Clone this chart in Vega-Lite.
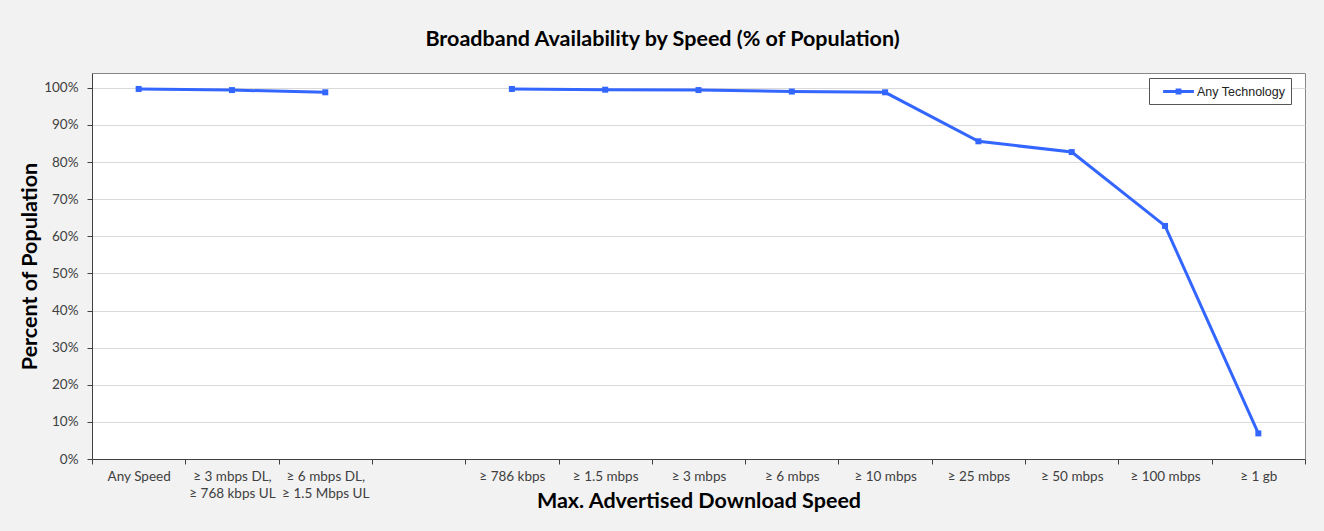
{
  "$schema": "https://vega.github.io/schema/vega-lite/v6.json",
  "width": 1213,
  "height": 386,
  "autosize": {"type": "none"},
  "padding": {"left": 92, "top": 73, "right": 19, "bottom": 72},
  "background": "#f2f2f2",
  "title": {
    "text": "Broadband Availability by Speed (% of Population)",
    "font": "Lato",
    "fontSize": 21.5,
    "fontWeight": "bold",
    "color": "#000000",
    "anchor": "middle",
    "dx": -36,
    "offset": 23
  },
  "data": {
    "values": [
      {"speed": "Any Speed", "pct": 0.997, "seg": "a", "tech": "Any Technology"},
      {"speed": "≥ 3 mbps DL,|≥ 768 kbps UL", "pct": 0.994, "seg": "a", "tech": "Any Technology"},
      {"speed": "≥ 6 mbps DL,|≥ 1.5 Mbps UL", "pct": 0.988, "seg": "a", "tech": "Any Technology"},
      {"speed": "≥ 786 kbps", "pct": 0.997, "seg": "b", "tech": "Any Technology"},
      {"speed": "≥ 1.5 mbps", "pct": 0.995, "seg": "b", "tech": "Any Technology"},
      {"speed": "≥ 3 mbps", "pct": 0.994, "seg": "b", "tech": "Any Technology"},
      {"speed": "≥ 6 mbps", "pct": 0.990, "seg": "b", "tech": "Any Technology"},
      {"speed": "≥ 10 mbps", "pct": 0.988, "seg": "b", "tech": "Any Technology"},
      {"speed": "≥ 25 mbps", "pct": 0.856, "seg": "b", "tech": "Any Technology"},
      {"speed": "≥ 50 mbps", "pct": 0.827, "seg": "b", "tech": "Any Technology"},
      {"speed": "≥ 100 mbps", "pct": 0.628, "seg": "b", "tech": "Any Technology"},
      {"speed": "≥ 1 gb", "pct": 0.069, "seg": "b", "tech": "Any Technology"}
    ]
  },
  "mark": {
    "type": "line",
    "strokeWidth": 3,
    "point": {"shape": "square", "size": 36, "filled": true}
  },
  "encoding": {
    "x": {
      "field": "speed",
      "type": "nominal",
      "sort": null,
      "scale": {
        "domain": ["Any Speed", "≥ 3 mbps DL,|≥ 768 kbps UL", "≥ 6 mbps DL,|≥ 1.5 Mbps UL", " ", "≥ 786 kbps", "≥ 1.5 mbps", "≥ 3 mbps", "≥ 6 mbps", "≥ 10 mbps", "≥ 25 mbps", "≥ 50 mbps", "≥ 100 mbps", "≥ 1 gb"],
        "type": "band",
        "paddingInner": 0,
        "paddingOuter": 0
      },
      "axis": {
        "title": "Max. Advertised Download Speed",
        "titleFont": "Lato",
        "titleFontSize": 21.5,
        "titleFontWeight": "bold",
        "titleColor": "#000000",
        "titleY": 48,
        "titleBaseline": "alphabetic",
        "labelFont": "Lato",
        "labelFontSize": 13.5,
        "labelColor": "#404040",
        "labelAngle": 0,
        "labelPadding": 5,
        "labelLineHeight": 17,
        "labelExpr": "split(datum.label, '|')",
        "tickBand": "extent",
        "tickSize": 5,
        "tickColor": "#404040",
        "domainColor": "#404040",
        "grid": false
      }
    },
    "y": {
      "field": "pct",
      "type": "quantitative",
      "scale": {"domain": [0, 1.04], "nice": false},
      "axis": {
        "title": "Percent of Population",
        "titleFont": "Lato",
        "titleFontSize": 21.5,
        "titleFontWeight": "bold",
        "titleColor": "#000000",
        "titleX": -62,
        "titleY": 193,
        "titleAngle": -90,
        "titleAlign": "center",
        "titleBaseline": "middle",
        "values": [0, 0.1, 0.2, 0.3, 0.4, 0.5, 0.6, 0.7, 0.8, 0.9, 1.0],
        "format": ".0%",
        "labelFont": "Lato",
        "labelFontSize": 13.5,
        "labelColor": "#404040",
        "labelPadding": 9,
        "tickSize": 5,
        "tickColor": "#404040",
        "domainColor": "#404040",
        "gridColor": "#d9d9d9",
        "gridWidth": 1
      }
    },
    "color": {
      "field": "tech",
      "type": "nominal",
      "scale": {"range": ["#3366ff"]},
      "legend": {
        "title": null,
        "orient": "none",
        "legendX": 1057,
        "legendY": 5,
        "padding": 5,
        "strokeColor": "#555555",
        "fillColor": "#ffffff",
        "labelFont": "Liberation Sans",
        "labelFontSize": 12.5,
        "labelColor": "#222222",
        "labelOffset": 10,
        "symbolOffset": 16,
        "symbolType": "M-2.2,0H2.2M-0.2,-0.2H0.2V0.2H-0.2Z",
        "symbolSize": 196,
        "symbolStrokeWidth": 3
      }
    },
    "detail": {"field": "seg"}
  },
  "config": {
    "view": {"fill": "#ffffff", "stroke": "#868686", "strokeWidth": 1}
  }
}
